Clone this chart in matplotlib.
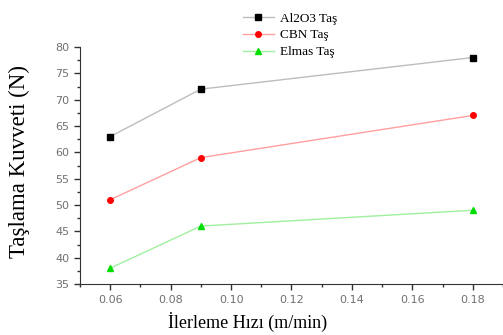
import matplotlib
matplotlib.use("Agg")
import matplotlib.pyplot as plt
from matplotlib.ticker import MultipleLocator

feed = [0.06, 0.09, 0.18]
al2o3 = [63, 72, 78]
cbn = [51, 59, 67]
elmas = [38, 46, 49]
labels = ["Al2O3 Taş", "CBN Taş", "Elmas Taş"]

fig = plt.figure(figsize=(5.03, 3.35), dpi=100)
ax = fig.add_axes([80/503, 1-284/335, 1-80/503, (284-47)/335])

l1, = ax.plot(feed, al2o3, color="#bdbdbd", lw=1, marker="s", ms=4, mfc="black", mec="black")
l2, = ax.plot(feed, cbn, color="#ffa0a0", lw=1, marker="o", ms=4, mfc="red", mec="red")
l3, = ax.plot(feed, elmas, color="#a0f0a0", lw=1, marker="^", ms=4.5, mfc="#00dd00", mec="#00dd00")

ax.set_xlim(0.05, 0.19)
ax.set_ylim(35, 80)
ax.xaxis.set_minor_locator(MultipleLocator(0.01))
ax.yaxis.set_major_locator(MultipleLocator(5))
ax.yaxis.set_minor_locator(MultipleLocator(2.5))
ax.set_xticks([0.06, 0.08, 0.10, 0.12, 0.14, 0.16, 0.18])
ax.set_xticklabels(["0.06", "0.08", "0.10", "0.12", "0.14", "0.16", "0.18"])
for s in ["top", "right"]:
    ax.spines[s].set_visible(False)
for s in ["left", "bottom"]:
    ax.spines[s].set_color("#333333")
ax.tick_params(which="major", direction="out", length=4, width=1, color="#333333",
               labelsize=8, labelcolor="#707070")
ax.tick_params(which="minor", direction="out", length=2, width=1, color="#333333")
ax.tick_params(axis="x", pad=4)

serif = ["Liberation Serif", "DejaVu Serif"]
ax.set_xlabel("İlerleme Hızı (m/min)", family=serif, fontsize=13)
ax.xaxis.set_label_coords((248-80)/423, -(322-284)/237, transform=ax.transAxes)
ax.xaxis.label.set_va("center")
ax.set_ylabel("Taşlama Kuvveti (N)", family=serif, fontsize=16.5)
ax.yaxis.set_label_coords(-(80-19)/423, (284-161)/237, transform=ax.transAxes)
ax.yaxis.label.set_va("center")

fig.legend([l1, l2, l3], labels, loc="upper left", bbox_to_anchor=(238/503, 1-7/335),
           frameon=False, prop={"family": serif, "size": 9.5}, handlelength=2.3,
           labelspacing=0.35, handletextpad=0.5, borderaxespad=0)

fig.savefig("out.png", dpi=100)
